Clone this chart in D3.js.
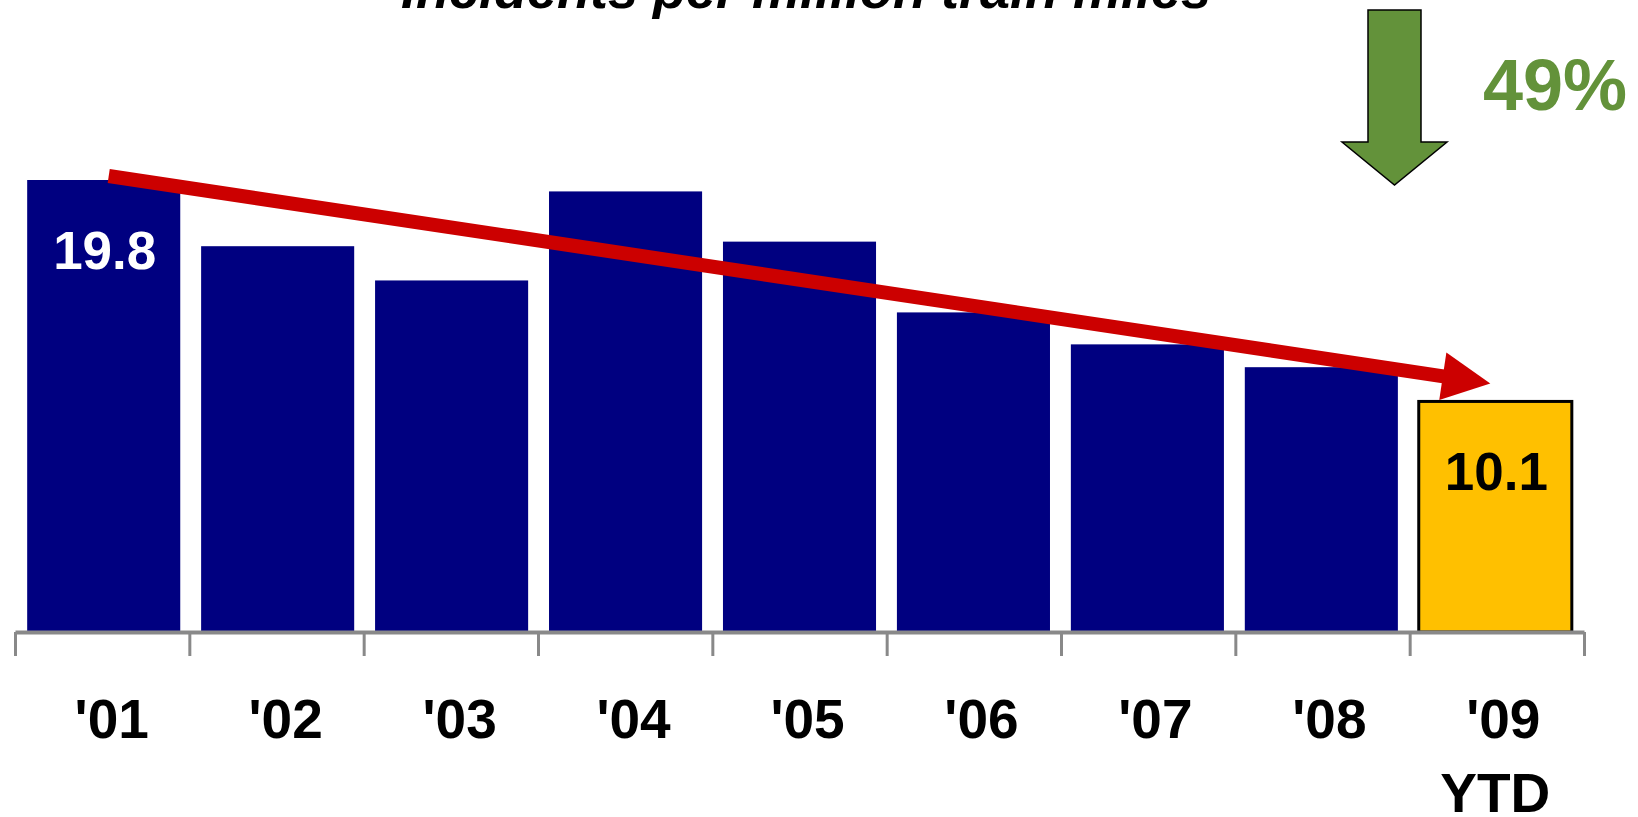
<!DOCTYPE html>
<html>
<head>
<meta charset="utf-8">
<script src="https://cdn.jsdelivr.net/npm/d3@7"></script>
<style>
  body { margin: 0; background: #fff; }
  svg { display: block; }
</style>
</head>
<body>
<div id="chart"></div>
<script>
// chart data
let years = ["'01", "'02", "'03", "'04", "'05", "'06", "'07", "'08", "'09"];
let subLabels = ["", "", "", "", "", "", "", "", "YTD"];
let rates = [19.8, 16.9, 15.4, 19.3, 17.1, 14.0, 12.6, 11.6, 10.1];
let shownValues = ["19.8", "", "", "", "", "", "", "", "10.1"];
let titleText = "Incidents per million train miles";
let dropText = "49%";

let svgWidth = 1638;
let svgHeight = 817;
let axisY = 632;

let svg = d3.select("#chart")
  .append("svg")
  .attr("width", svgWidth)
  .attr("height", svgHeight);

let sans = "'Liberation Sans', Arial, sans-serif";

// scales
let x = d3.scaleBand()
  .domain(years)
  .range([15, 1584])
  .paddingInner(0.12)
  .paddingOuter(0.07);

let y = d3.scaleLinear()
  .domain([0, 19.8])
  .range([axisY, 180]);

// tick marks sit on the band edges
let edges = d3.scaleLinear()
  .domain([0, years.length])
  .range([15, 1584]);

// title (cut off at the top in the original slide)
svg.append("text")
  .attr("x", 806)
  .attr("y", 8)
  .attr("text-anchor", "middle")
  .style("font-family", sans)
  .style("font-weight", "bold")
  .style("font-style", "italic")
  .style("font-size", "54px")
  .text(titleText);

// bars
svg.selectAll("rect.bar")
  .data(rates)
  .enter()
  .append("rect")
  .attr("class", "bar")
  .attr("x", (d, i) => x(years[i]))
  .attr("y", d => y(d))
  .attr("width", x.bandwidth())
  .attr("height", d => axisY - y(d))
  .attr("fill", (d, i) => i === rates.length - 1 ? "#FFC000" : "#000080")
  .attr("stroke", (d, i) => i === rates.length - 1 ? "#000" : "none")
  .attr("stroke-width", 3);

// value labels inside first and last bar
svg.selectAll("text.value")
  .data(rates)
  .enter()
  .append("text")
  .attr("class", "value")
  .attr("x", (d, i) => x(years[i]) + x.bandwidth() / 2 + 1)
  .attr("y", d => y(d) + 89)
  .attr("text-anchor", "middle")
  .style("font-family", sans)
  .style("font-weight", "bold")
  .style("font-size", "53px")
  .style("fill", (d, i) => i === rates.length - 1 ? "#000" : "#fff")
  .text((d, i) => shownValues[i]);

// axis line + ticks
let tickAxis = d3.axisBottom(edges)
  .tickValues(d3.range(years.length + 1))
  .tickSize(24)
  .tickSizeOuter(0)
  .tickFormat("");

let axisG = svg.append("g")
  .attr("transform", `translate(0, ${axisY})`)
  .call(tickAxis);

axisG.select(".domain")
  .attr("stroke", "#898989")
  .attr("stroke-width", 4);
axisG.selectAll(".tick line")
  .attr("stroke", "#898989")
  .attr("stroke-width", 3);

// category labels
let labelAxis = d3.axisBottom(x)
  .tickSize(0)
  .tickPadding(0);

let labelG = svg.append("g")
  .attr("transform", `translate(0, ${axisY})`)
  .call(labelAxis);

labelG.select(".domain").remove();
labelG.selectAll(".tick text")
  .attr("y", 106)
  .attr("dy", null)
  .attr("dx", 8)
  .style("font-family", sans)
  .style("font-weight", "bold")
  .style("font-size", "55px")
  .style("fill", "#000");

labelG.selectAll(".tick")
  .append("text")
  .attr("y", 180)
  .attr("text-anchor", "middle")
  .style("font-family", sans)
  .style("font-weight", "bold")
  .style("font-size", "55px")
  .style("fill", "#000")
  .text((d, i) => subLabels[i]);

// red trend arrow from first to last bar
let first = years[0];
let last = years[years.length - 1];
let x0 = x(first) + x.bandwidth() / 2 + 5;
let y0 = y(rates[0]) - 4;
let x1 = x(last) + x.bandwidth() / 2 - 5;
let y1 = y(rates[rates.length - 1]) - 18;
let ang = Math.atan2(y1 - y0, x1 - x0);
let headLen = 48;
let headHalf = 24;

svg.append("line")
  .attr("x1", x0)
  .attr("y1", y0)
  .attr("x2", x1 - (headLen - 4) * Math.cos(ang))
  .attr("y2", y1 - (headLen - 4) * Math.sin(ang))
  .attr("stroke", "#CC0000")
  .attr("stroke-width", 14);

svg.append("polygon")
  .attr("points", [[0, 0], [-headLen, -headHalf], [-headLen, headHalf]].map(p => p.join(",")).join(" "))
  .attr("transform", `translate(${x1}, ${y1}) rotate(${ang * 180 / Math.PI})`)
  .attr("fill", "#CC0000");

// green down arrow and percentage
let arrowPath = d3.path();
arrowPath.moveTo(1368, 10);
arrowPath.lineTo(1421, 10);
arrowPath.lineTo(1421, 142);
arrowPath.lineTo(1447, 142);
arrowPath.lineTo(1394.5, 185);
arrowPath.lineTo(1342, 142);
arrowPath.lineTo(1368, 142);
arrowPath.closePath();

svg.append("path")
  .attr("d", arrowPath.toString())
  .attr("fill", "#63923A")
  .attr("stroke", "#000")
  .attr("stroke-width", 1.5);

svg.append("text")
  .attr("x", 1483)
  .attr("y", 110)
  .style("font-family", sans)
  .style("font-weight", "bold")
  .style("font-size", "72px")
  .style("fill", "#63923A")
  .text(dropText);
</script>
</body>
</html>
